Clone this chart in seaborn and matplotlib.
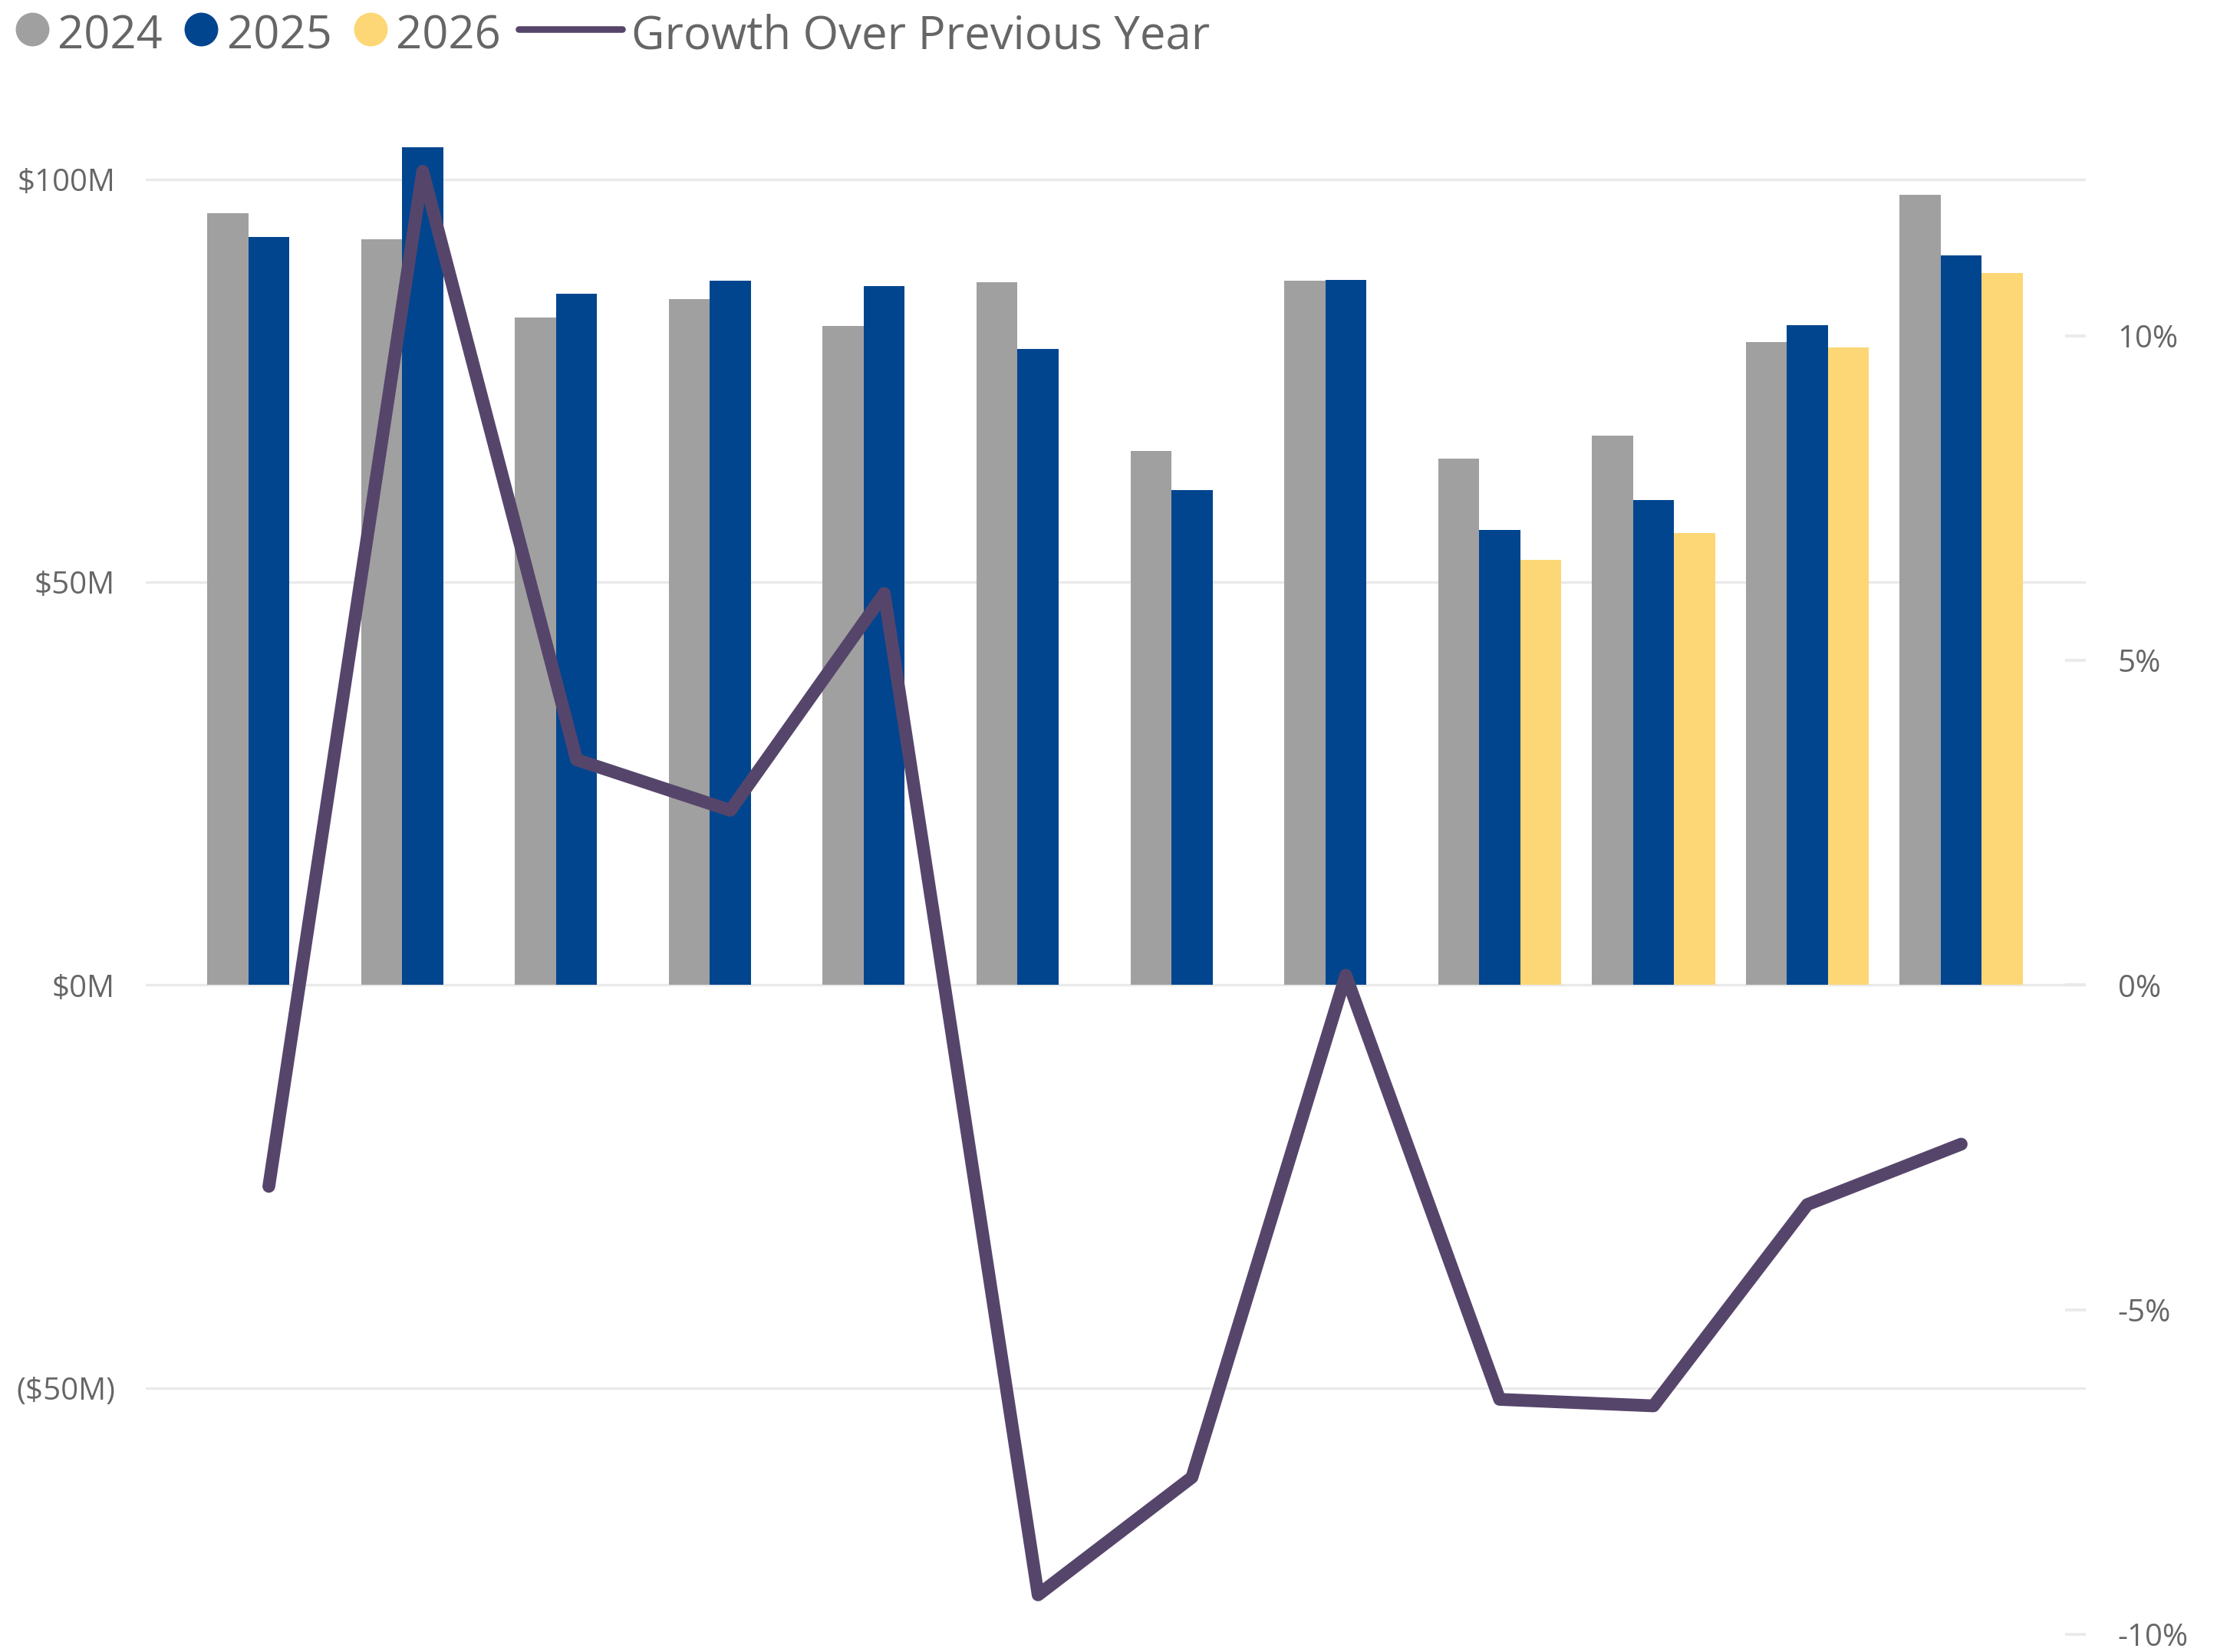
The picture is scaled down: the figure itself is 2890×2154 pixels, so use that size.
import matplotlib
matplotlib.use("Agg")
import matplotlib.pyplot as plt
from matplotlib.lines import Line2D
from matplotlib.ticker import FuncFormatter
import seaborn as sns
import numpy as np
import pandas as pd

# data (sales in $M, growth in %)
months = ["Jan", "Feb", "Mar", "Apr", "May", "Jun",
          "Jul", "Aug", "Sep", "Oct", "Nov", "Dec"]
years = ["2024", "2025", "2026"]
sales_2024 = [95.8, 92.5, 82.8, 85.1, 81.8, 87.2, 66.3, 87.4, 65.3, 68.2, 79.8, 98.1]
sales_2025 = [92.8, 104.0, 85.8, 87.4, 86.7, 78.9, 61.4, 87.5, 56.5, 60.2, 81.9, 90.5]
sales_2026 = [np.nan] * 8 + [52.8, 56.1, 79.1, 88.4]
growth = [-3.10, 12.53, 3.47, 2.69, 6.03, -9.39, -7.58, 0.15, -6.38, -6.48, -3.38, -2.45]

left_ticks = [-50, 0, 50, 100]
right_ticks = [-10, -5, 0, 5, 10]

colors = {"2024": "#A0A0A0", "2025": "#01458F", "2026": "#FDD775"}
line_color = "#56456B"
text_color = "#666666"
grid_color = "#EAEAEA"

sns.set_theme(style="white")
plt.rcParams["font.family"] = ["Open Sans", "DejaVu Sans"]

wide = pd.DataFrame({"month": months, "2024": sales_2024,
                     "2025": sales_2025, "2026": sales_2026})
bars = wide.melt(id_vars="month", var_name="year", value_name="sales").dropna()
line_df = pd.DataFrame({"pos": np.arange(len(months)), "growth": growth})

W, H, DPI = 2890, 2154, 200
fig = plt.figure(figsize=(W / DPI, H / DPI), dpi=DPI)
ax = fig.add_axes([190 / W, 0, (2719 - 190) / W, 1 - 170 / H])

sns.barplot(data=bars, x="month", y="sales", hue="year", order=months,
            hue_order=years, palette=colors, saturation=1, errorbar=None,
            width=0.8, legend=False, linewidth=0, edgecolor="none", ax=ax)

ax.set_xlim(-0.80, 11.81)
ax.set_ylim(-82.77, 106.06)
ax.set_yticks(left_ticks)
ax.yaxis.set_major_formatter(FuncFormatter(
    lambda v, _: f"${v:.0f}M" if v >= 0 else f"(${abs(v):.0f}M)"))
ax.set_xlabel("")
ax.set_ylabel("")
ax.tick_params(axis="x", length=0, labelbottom=False)
ax.tick_params(axis="y", length=0, pad=14.4, labelsize=14.5, labelcolor=text_color)
ax.grid(axis="y", color=grid_color, linewidth=1.2)
ax.set_axisbelow(True)
for s in ax.spines.values():
    s.set_visible(False)

ax2 = ax.twinx()
sns.lineplot(data=line_df, x="pos", y="growth", color=line_color, linewidth=6,
             ax=ax2, solid_capstyle="round", solid_joinstyle="round")
ax2.set_ylim(-10.27, 13.16)
ax2.set_yticks(right_ticks)
ax2.yaxis.set_major_formatter(FuncFormatter(lambda v, _: f"{v:.0f}%"))
ax2.set_ylabel("")
ax2.set_xlabel("")
ax2.tick_params(axis="y", direction="in", length=9.7, width=1.4, color=grid_color,
                pad=15, labelsize=14.5, labelcolor=text_color)
ax2.grid(False)
for s in ax2.spines.values():
    s.set_visible(False)
ax.set_xlim(-0.80, 11.81)

# legend drawn across the top, laid out left to right
fig.canvas.draw()
renderer = fig.canvas.get_renderer()
yc = 1 - 38 / H
yb = 1 - 64 / H
x = 42 / W
for yr in years:
    fig.add_artist(Line2D([x], [yc], marker="o", markersize=14.8, linestyle="none",
                          color=colors[yr], transform=fig.transFigure))
    t = fig.text(x + 33.5 / W, yb, yr, fontsize=21.5, color=text_color, va="baseline")
    bb = t.get_window_extent(renderer)
    x = bb.x1 / W + 50 / W
x0 = x - 50 / W + 23 / W
fig.add_artist(Line2D([x0, x0 + 135 / W], [yc, yc], color=line_color, linewidth=3.1,
                      solid_capstyle="round", transform=fig.transFigure))
fig.text(x0 + 147 / W, yb, "Growth Over Previous Year", fontsize=21.5,
         color=text_color, va="baseline")

fig.savefig("out.png", dpi=DPI, facecolor="white")
